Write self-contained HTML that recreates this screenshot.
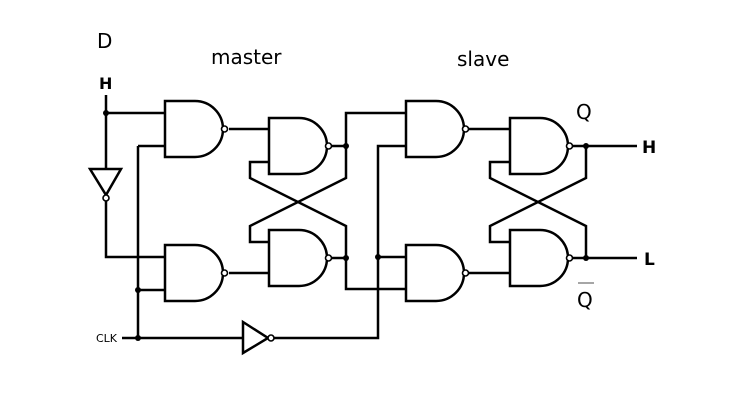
<!DOCTYPE html>
<html><head><style>
html,body{margin:0;padding:0;background:#fff;}
svg{display:block;}
text{font-family:"DejaVu Sans","Liberation Sans",sans-serif;fill:#000;}
</style></head><body>
<svg width="743" height="408" viewBox="0 0 743 408" xmlns="http://www.w3.org/2000/svg">
<defs>
<g id="nand"><path d="M0,0 H30 A28,28 0 0 1 30,56 H0 Z" fill="#fff" stroke="#000" stroke-width="2.5"/><circle cx="59.5" cy="28" r="3" fill="#fff" stroke="#000" stroke-width="1.6"/></g>
</defs>
<g stroke="#000" stroke-width="2.5" fill="none">
<path d="M106,95 V169"/>
<path d="M106,113 H165"/>
<path d="M106,201 V257 H165"/>
<path d="M138,146 H165 M138,146 V338"/>
<path d="M138,290 H165"/>
<path d="M122,338 H243"/>
<path d="M274,338 H378 V146 H406"/>
<path d="M378,257 H406"/>
<path d="M229,129 H269"/>
<path d="M229,273 H269"/>
<path d="M332,146 H346 V113 H406"/>
<path d="M332,258 H346 V289 H406"/>
<path d="M269,162 H250 V178 L346,226 V258"/>
<path d="M346,146 V178 L250,226 V242 H269"/>
<path d="M469,129 H510"/>
<path d="M469,273 H510"/>
<path d="M572,146 H637"/>
<path d="M572,258 H637"/>
<path d="M510,162 H490 V178 L586,226 V258"/>
<path d="M586,146 V178 L490,226 V242 H510"/>
<path d="M90,169 H121 L106,195 Z" fill="#fff"/>
<path d="M243,322 V353 L268,338 Z" fill="#fff"/>
</g>
<circle cx="106" cy="198" r="3" fill="#fff" stroke="#000" stroke-width="1.6"/>
<circle cx="271" cy="338" r="3" fill="#fff" stroke="#000" stroke-width="1.6"/>
<use href="#nand" x="165" y="101"/>
<use href="#nand" x="165" y="245"/>
<use href="#nand" x="269" y="118"/>
<use href="#nand" x="269" y="230"/>
<use href="#nand" x="406" y="101"/>
<use href="#nand" x="406" y="245"/>
<use href="#nand" x="510" y="118"/>
<use href="#nand" x="510" y="230"/>
<g fill="#000">
<circle cx="106" cy="113" r="3"/>
<circle cx="138" cy="290" r="3"/>
<circle cx="138" cy="338" r="3"/>
<circle cx="346" cy="146" r="3"/>
<circle cx="346" cy="258" r="3"/>
<circle cx="378" cy="257" r="3"/>
<circle cx="586" cy="146" r="3"/>
<circle cx="586" cy="258" r="3"/>
</g>
<text x="97" y="48" font-size="20">D</text>
<text x="99" y="89" font-size="16" font-weight="bold">H</text>
<text x="211" y="64" font-size="20">master</text>
<text x="457" y="66" font-size="20">slave</text>
<text x="576" y="119" font-size="20">Q</text>
<text x="577" y="307" font-size="20">Q</text>
<line x1="578" y1="283" x2="594" y2="283" stroke="#888" stroke-width="1.5"/>
<text x="642" y="153" font-size="17" font-weight="bold">H</text>
<text x="644" y="265" font-size="17" font-weight="bold">L</text>
<text x="96" y="342" font-size="11">CLK</text>
</svg>
</body></html>
